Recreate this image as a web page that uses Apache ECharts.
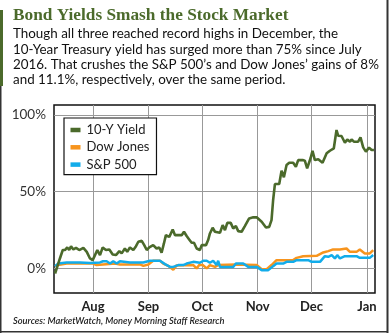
<!DOCTYPE html>
<html><head><meta charset="utf-8">
<script src="https://cdn.jsdelivr.net/npm/echarts@6/dist/echarts.min.js"></script>
<style>html,body{margin:0;padding:0;background:#fff}#c{width:390px;height:333px}</style>
</head><body><div id="c"></div><script>
// x values are days since 2016-07-01
const monthTicks = [31, 62, 92, 123, 153, 184];
const monthLabels = ['Aug', 'Sep', 'Oct', 'Nov', 'Dec', 'Jan'];
const yTicks = [0, 50, 100];

const yieldDays = [9.8,11.0,12.5,14.1,15.3,16.6,17.7,18.7,20.0,21.5,23.3,25.6,27.5,29.3,30.8,32.1,33.4,34.9,36.4,38.2,40.1,42.0,43.8,45.7,47.0,48.8,50.1,51.6,53.5,55.0,56.3,58.2,59.6,61.0,62.4,64.6,66.5,68.0,69.3,70.6,71.7,73.6,75.5,76.8,78.6,80.5,81.8,83.3,84.7,86.1,87.4,88.9,90.7,91.7,94.1,95.3,96.3,97.8,99.1,101.9,103.4,104.7,106.0,107.9,109.3,110.8,112.1,114.0,115.8,118.2,120.5,122.4,125.2,127.6,129.4,130.7,131.6,132.6,135.0,136.3,137.6,139.1,140.6,142.8,144.3,145.6,148.1,149.3,150.6,152.5,153.6,154.9,156.8,159.2,161.5,163.3,165.5,167.0,167.9,169.8,171.7,173.0,174.5,175.4,176.7,179.1,180.4,181.9,183.4,185.2,186.6,187.9];
const yieldVals = [-3.3,1,6.5,12,12,13.7,12,14.5,12.4,13.4,12,13.4,10.8,6.5,5.4,8.7,12,8.7,13.7,12,12.4,9.1,8.7,11.3,9.8,13,10.8,13.7,12,14.5,17.4,18,15.2,12,13.7,15.2,13,13.7,10.2,16.3,21.7,20.6,25.4,21.7,21.7,21.7,23.9,21.1,18.9,16.7,16.7,13,12,15.2,15.2,18.5,22.8,26.5,23.9,23.2,28.2,25,29.7,29.7,26.1,27.6,24.3,23.9,27.6,32.6,33.3,33.3,30.4,26.7,27.1,31.5,44.6,55,55,63.7,59.4,67.4,68.9,68.9,66.3,70.6,70.6,70.2,65.2,71.8,76.7,70.6,71.1,68.9,75,76.7,78.3,90.2,86.5,86.3,81.9,84.1,82.6,84.1,82.6,82.6,85.4,78.9,76.1,78.7,77.2,77.2];

const dowDays = [9.8,11.4,16.3,31.0,33.0,36.6,43.3,46.0,57.2,59.1,61.9,64.6,68.4,70.2,73.0,75.8,77.7,87.0,88.9,90.3,92.4,94.5,96.3,99.1,100.8,110.8,122.4,125.2,128.0,130.7,133.5,142.8,144.7,148.4,155.9,159.6,162.4,165.1,168.9,172.6,174.5,178.2,180.0,182.8,185.6,187.5];
const dowVals = [1.5,2.2,3.2,3.2,2.2,2.6,3.2,2.6,2.6,1.7,2.6,5,5,3.2,1.7,-0.9,2,2.2,0,2.2,2.2,0,2.2,1,2.2,2.6,2.2,-0.5,-0.5,2.2,5.4,5.4,6.9,8,8.2,10.4,11.3,12.4,12.4,13,10.8,10.8,12.4,9.8,9.8,12];

const spDays = [9.8,11.6,16.3,23.7,29.3,34.9,36.6,38.6,40.5,42.3,44.2,46.0,51.6,59.1,62.8,68.4,71.2,74.0,75.8,78.6,81.4,83.3,87.0,90.7,92.6,94.5,96.3,98.1,100.0,100.9,101.9,109.3,110.8,114.9,117.7,122.4,125.2,128.9,131.6,133.5,137.2,139.1,142.8,144.7,151.2,153.1,157.8,160.5,162.4,164.3,166.1,167.4,168.9,171.7,178.2,180.0,185.6,187.5];
const spVals = [1.5,3.2,3.9,3.9,3.5,3.9,4.7,4.7,3.2,4.7,3.2,4.7,3.9,3.9,5,5,2.8,1,1,2.2,2.2,3.2,4.3,3.7,5,5,3.7,5,2.2,5,1,1,3.2,3.2,1,1,-1.1,-1.1,1.5,3.2,3.2,4.3,4.3,5.4,5.4,4.3,4.3,8,7.6,8.7,6.5,8.7,6.5,8,8,6.9,6.9,8.7];

const zip = (a, b) => a.map((d, i) => [d, b[i]]);
const GREEN = '#4b6a2b', ORANGE = '#f7941d', BLUE = '#12acea';

const subtitle = [
  'Though all three reached record highs in December, the',
  '10-Year Treasury yield has surged more than 75% since July',
  '2016. That crushes the S&P 500\u2019s and Dow Jones\u2019 gains of 8%',
  'and 11.1%, respectively, over the same period.'
];

const chart = echarts.init(document.getElementById('c'), null, {renderer: 'canvas'});
const graphics = [
  {type: 'rect', shape: {x: 0, y: 10, width: 3, height: 76}, style: {fill: GREEN}},
  {type: 'rect', shape: {x: 0, y: 86, width: 1.5, height: 247}, style: {fill: '#333'}},
  {type: 'rect', shape: {x: 386.5, y: 0, width: 2, height: 333}, style: {fill: '#333'}},
  {type: 'rect', shape: {x: 0, y: 331, width: 388, height: 1.5}, style: {fill: '#333'}},
  {type: 'text', left: 13, top: 7, style: {text: 'Bond Yields Smash the Stock Market', font: 'bold 17.3px "Liberation Serif"', fill: GREEN}},
  {type: 'text', left: 13, top: 316, style: {text: 'Sources: MarketWatch, Money Morning Staff Research', font: 'italic 600 9.3px Lato', fill: '#222'}}
];
subtitle.forEach((t, i) => graphics.push({type: 'text', left: 13, top: 27.5 + i * 15.3, style: {text: t, font: '13.4px Lato', fill: '#111'}}));

chart.setOption({
  animation: false,
  grid: {left: 54, top: 105, right: 15, bottom: 40, show: true, borderColor: '#111', borderWidth: 1.5},
  legend: {
    orient: 'vertical', left: 64, top: 118,
    padding: [5, 7, 3, 6.5], itemWidth: 10, itemHeight: 4.5, itemGap: 3.3,
    icon: 'rect', borderColor: '#111', borderWidth: 1.2, backgroundColor: '#fff',
    textStyle: {fontFamily: 'Lato', fontSize: 13, color: '#222', lineHeight: 14, padding: [0, 0, 0, 1]},
    data: ['10-Y Yield', 'Dow Jones', 'S&P 500']
  },
  xAxis: {
    type: 'value', min: 9.2, max: 188.5,
    axisLine: {show: false}, axisTick: {show: false, customValues: monthTicks},
    splitLine: {show: true, lineStyle: {color: '#999', width: 1}},
    axisLabel: {customValues: monthTicks, formatter: v => monthLabels[monthTicks.indexOf(v)] || '',
      fontFamily: 'Lato', fontWeight: 'bold', fontSize: 13, color: '#222', margin: 7, showMinLabel: true, showMaxLabel: true}
  },
  yAxis: {
    type: 'value', min: -16, max: 106.5,
    axisLine: {show: false}, axisTick: {show: false, customValues: yTicks},
    splitLine: {show: true, lineStyle: {color: '#999', width: 1}},
    axisLabel: {customValues: yTicks, formatter: v => v + '%', fontFamily: 'Lato', fontSize: 13.5, color: '#333', margin: 8}
  },
  series: [
    {name: '10-Y Yield', type: 'line', data: zip(yieldDays, yieldVals), showSymbol: false, lineStyle: {color: GREEN, width: 2.6}, itemStyle: {color: GREEN}, z: 3},
    {name: 'Dow Jones', type: 'line', data: zip(dowDays, dowVals), showSymbol: false, lineStyle: {color: ORANGE, width: 2.5}, itemStyle: {color: ORANGE}, z: 2},
    {name: 'S&P 500', type: 'line', data: zip(spDays, spVals), showSymbol: false, lineStyle: {color: BLUE, width: 2.5}, itemStyle: {color: BLUE}, z: 2}
  ],
  graphic: graphics
});
</script></body></html>
